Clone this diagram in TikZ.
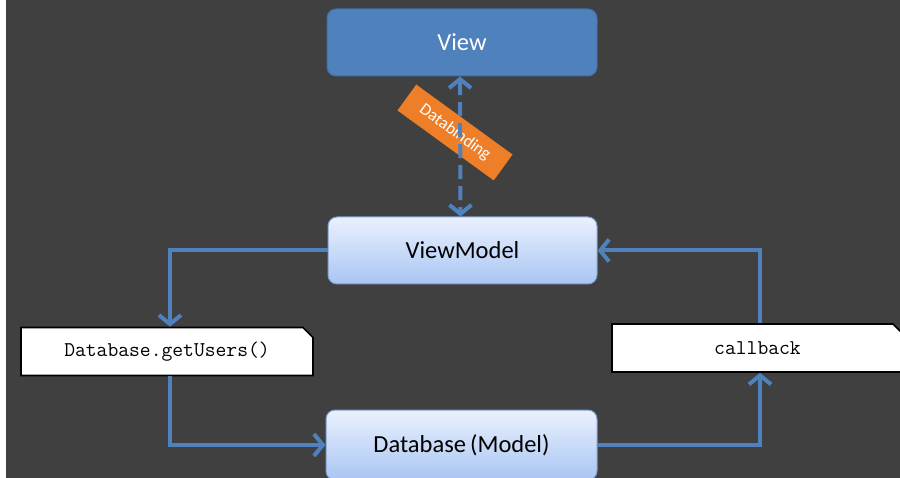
\documentclass[tikz,border=0pt]{standalone}
\usepackage{fontspec}
\setmainfont{Carlito}
\usetikzlibrary{arrows.meta,shapes.misc}
\definecolor{bg}{HTML}{404040}
\definecolor{conn}{HTML}{4F81BD}
\definecolor{viewfill}{HTML}{4F81BD}
\definecolor{viewborder}{HTML}{3F6FA8}
\definecolor{lighttop}{HTML}{EAF1FE}
\definecolor{lightbot}{HTML}{A9C5F3}
\definecolor{lightborder}{HTML}{7E9CCB}
\definecolor{orangefill}{HTML}{EE7E28}
\tikzset{
  mainbox/.style={rounded corners=9pt, minimum width=270pt, minimum height=67pt, font=\fontsize{24.5}{28}\selectfont, line width=1pt, inner sep=0pt},
  darkbox/.style={mainbox, fill=viewfill, draw=viewborder, text=white},
  lightbox/.style={mainbox, top color=lighttop, bottom color=lightbot, draw=lightborder, text=black},
  codebox/.style={chamfered rectangle, chamfered rectangle corners=north east, chamfered rectangle xsep=5pt, chamfered rectangle ysep=5pt, fill=white, draw=black, line width=1.6pt, minimum height=48pt, inner sep=0pt, font=\ttfamily\fontsize{21}{24}\selectfont},
  connector/.style={draw=conn, line width=4pt, -{Straight Barb[length=9pt,width=22pt,line width=4pt]}},
  tag/.style={fill=orangefill, text=white, minimum width=119pt, minimum height=32pt, inner sep=0pt, font=\fontsize{17}{20}\selectfont}
}
\begin{document}
\begin{tikzpicture}[x=1pt,y=-1pt]
  \useasboundingbox (0,0) rectangle (900,478);
  \clip (0,0) rectangle (900,478);
  \fill[bg] (0,0) rectangle (900,478);
  \fill[white] (0,0) rectangle (6,478);

  \node[darkbox] (view) at (462,42.5) {View};
  \node[lightbox, minimum width=269pt] (vm) at (462.5,250.5) {ViewModel};
  \node[lightbox, minimum width=271pt, minimum height=70pt] (db) at (461.5,445) {Database\,(Model)};
  \node[codebox, minimum width=292pt] (get) at (167,351.5) {Database.getUsers()};
  \node[codebox, minimum width=291pt] (cb) at (757.5,348) {callback};

  \node[tag, rotate=-36] (bind) at (455,132.5) {Databinding};

  \draw[connector, {Straight Barb[length=9pt,width=22pt,line width=4pt]}-{Straight Barb[length=9pt,width=22pt,line width=4pt]}, dash pattern=on 14pt off 7pt]
    ([xshift=-2pt]view.south) -- ([xshift=-2pt]vm.north);

  \draw[connector] (vm.west) -| ([xshift=3pt]get.north);
  \draw[connector] ([xshift=3pt]get.south) |- (db.west);
  \draw[connector] (db.east) -| ([xshift=2.5pt]cb.south);
  \draw[connector] ([xshift=2.5pt]cb.north) |- (vm.east);
\end{tikzpicture}
\end{document}
